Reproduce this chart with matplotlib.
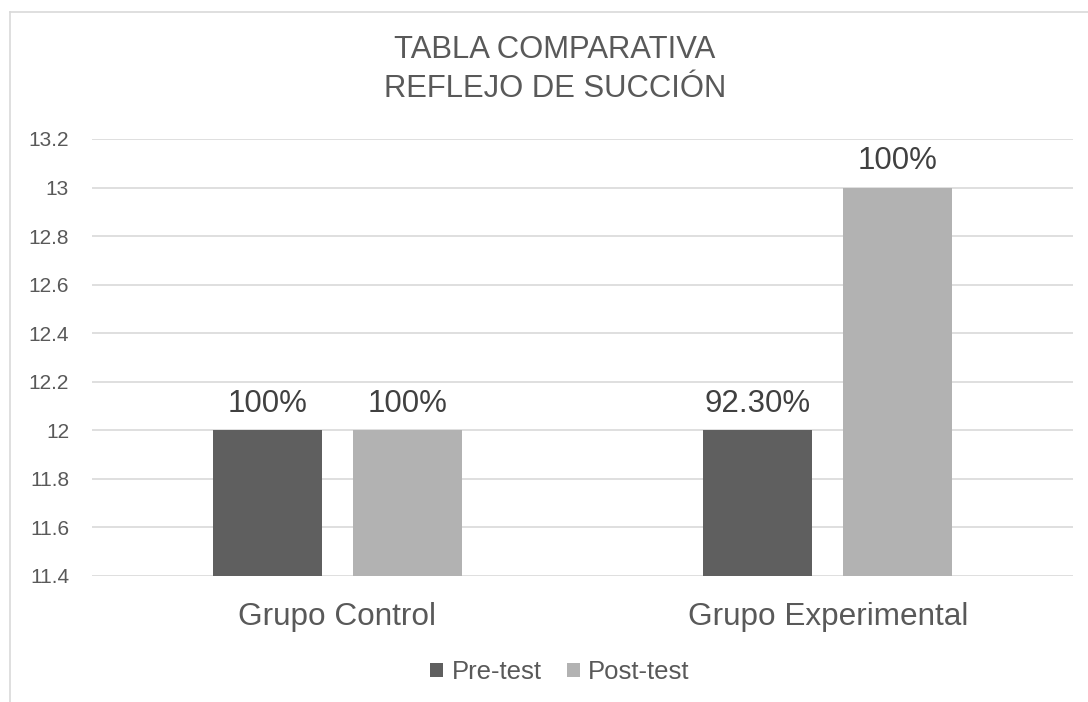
import matplotlib
matplotlib.use("Agg")
import matplotlib.pyplot as plt
from matplotlib.lines import Line2D
from matplotlib.patches import Patch
import numpy as np

categories = ["Grupo Control", "Grupo Experimental"]
series_names = ["Pre-test", "Post-test"]
pre_values = [12, 12]
post_values = [12, 13]
pre_labels = ["100%", "92.30%"]
post_labels = ["100%", "100%"]
title_lines = ["TABLA COMPARATIVA", "REFLEJO DE SUCCIÓN"]
yticks = [11.4, 11.6, 11.8, 12.0, 12.2, 12.4, 12.6, 12.8, 13.0, 13.2]
ytick_labels = ["11.4", "11.6", "11.8", "12", "12.2", "12.4", "12.6", "12.8", "13", "13.2"]

plt.rcParams['font.family'] = ['Liberation Sans', 'DejaVu Sans']

W, H = 1088, 702
fig = plt.figure(figsize=(W / 100, H / 100), dpi=100)
fig.patch.set_facecolor("white")

ax = fig.add_axes([92 / W, 1 - 576 / H, (1073 - 92) / W, (576 - 139) / H])

dark = "#5f5f5f"
light = "#b2b2b2"
txt = "#595959"
lbl = "#404040"
grid = "#d9d9d9"

x = np.arange(len(categories))
bw = 0.222
off = 0.1427
b1 = ax.bar(x - off, pre_values, bw, color=dark, zorder=3)
b2 = ax.bar(x + off, post_values, bw, color=light, zorder=3)

ax.set_ylim(11.4, 13.2)
ax.set_xlim(-0.5, 1.5)
ax.set_yticks(yticks)
ax.set_yticklabels(ytick_labels, fontsize=15, color=txt)
ax.set_xticks(x)
ax.set_xticklabels(categories, fontsize=22.7, color=txt)
ax.tick_params(axis='both', length=0)
ax.tick_params(axis='y', pad=16.5)
ax.tick_params(axis='x', pad=19)
ax.yaxis.grid(True, color=grid, lw=1.2, zorder=0)
for s in ax.spines.values():
    s.set_visible(False)

for bars, labels in ((b1, pre_labels), (b2, post_labels)):
    for rect, lab in zip(bars, labels):
        ax.annotate(lab, (rect.get_x() + rect.get_width() / 2, rect.get_height()),
                    xytext=(0, 8), textcoords="offset points",
                    ha="center", va="bottom", fontsize=22.5, color=lbl, zorder=4)

fig.text(555 / W, 1 - 50 / H, title_lines[0], ha="center", va="center",
         fontsize=22.3, color=txt)
fig.text(555 / W, 1 - 89 / H, title_lines[1], ha="center", va="center",
         fontsize=22.3, color=txt)

handles = [Patch(facecolor=dark, edgecolor='none'), Patch(facecolor=light, edgecolor='none')]
fig.legend(handles, series_names, loc="center", bbox_to_anchor=(560 / W, 1 - 672 / H),
           ncol=2, frameon=False, fontsize=18.5, labelcolor=txt,
           handlelength=0.5, handleheight=0.5, handletextpad=0.34, columnspacing=0.97)

# chart frame (top and left edges visible)
fig.add_artist(Line2D([10 / W, 1.0], [1 - 12 / H, 1 - 12 / H], transform=fig.transFigure,
                      color=grid, lw=1.2))
fig.add_artist(Line2D([10 / W, 10 / W], [1 - 12 / H, 0], transform=fig.transFigure,
                      color=grid, lw=1.2))

fig.savefig("out.png", dpi=100, facecolor="white")
